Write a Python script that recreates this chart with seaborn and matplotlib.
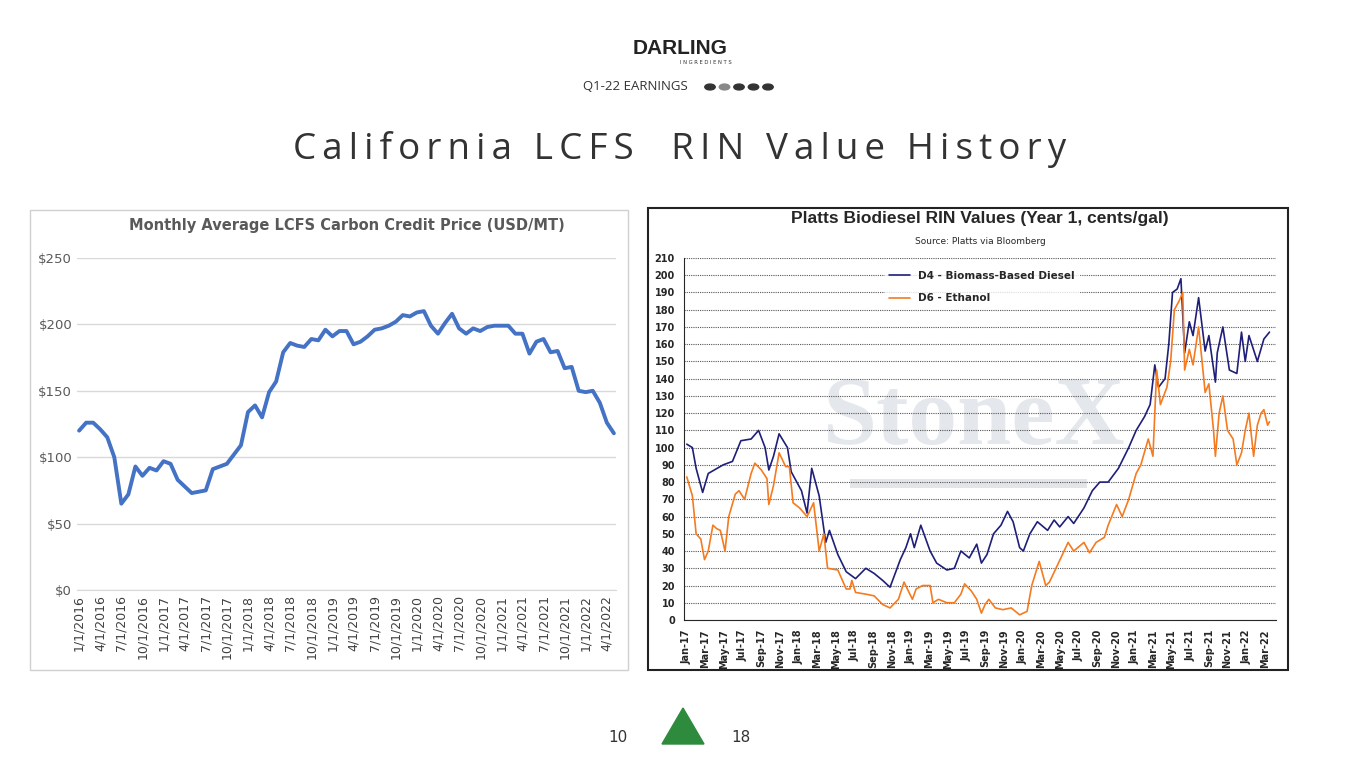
import matplotlib.pyplot as plt
import matplotlib.patches as mpatches
import seaborn as sns
import pandas as pd
import numpy as np

# ---- left chart: monthly LCFS credit price, Jan 2016 onwards ----
lcfs_price = [120, 126, 126, 121, 115, 100, 65, 72, 93, 86, 92, 90,
              97, 95, 83, 78, 73, 74, 75, 91, 93, 95, 102, 109,
              134, 139, 130, 149, 157, 179, 186, 184, 183, 189, 188, 196,
              191, 195, 195, 185, 187, 191, 196, 197, 199, 202, 207, 206,
              209, 210, 199, 193, 201, 208, 197, 193, 197, 195, 198, 199,
              199, 199, 193, 193, 178, 187, 189, 179, 180, 167, 168, 150,
              149, 150, 141, 126, 118]
lcfs_ticks = [f"{m}/1/{y}" for y in range(2016, 2023) for m in (1, 4, 7, 10)][:26]

# ---- right chart: RIN values (months since Jan-17, cents/gal) ----
d4_month = [0, 0.6, 1.0, 1.7, 2.3, 3.9, 4.9, 5.8, 6.9, 7.7, 8.4, 8.8, 9.3, 9.9, 10.8, 11.2,
            12.3, 12.9, 13.4, 14.2, 14.9, 15.3, 16.2, 17.1, 18.1, 19.2, 20.1, 21.0, 21.8, 22.9,
            23.5, 24.0, 24.4, 25.1, 26.1, 26.8, 27.9, 28.7, 29.4, 30.3, 31.1, 31.6, 32.2, 32.9,
            33.7, 34.4, 35.0, 35.7, 36.1, 36.8, 37.6, 38.7, 39.4, 40.0, 40.9, 41.5, 42.6, 43.5,
            44.3, 45.2, 46.3, 47.4, 48.2, 49.1, 49.7, 50.2, 50.6, 51.3, 51.7, 52.1, 52.6, 53.0,
            53.4, 53.9, 54.3, 54.9, 55.6, 56.0, 56.7, 56.9, 57.5, 58.2, 59.0, 59.5, 59.9, 60.3,
            61.2, 61.9, 62.5]
d4_value = [102, 100, 88, 74, 85, 90, 92, 104, 105, 110, 100, 87, 95, 108, 100, 86,
            75, 62, 88, 72, 45, 52, 38, 28, 24, 30, 27, 23, 19, 35,
            42, 50, 42, 55, 40, 33, 29, 30, 40, 36, 44, 33, 38, 50,
            55, 63, 57, 42, 40, 50, 57, 52, 58, 54, 60, 56, 65, 75,
            80, 80, 88, 100, 110, 118, 125, 148, 135, 140, 160, 190, 192, 198,
            155, 173, 165, 187, 156, 165, 138, 155, 170, 145, 143, 167, 150, 165,
            150, 163, 167]
d6_month = [0, 0.6, 1.0, 1.5, 1.9, 2.3, 2.8, 3.2, 3.6, 4.1, 4.5, 5.2, 5.6, 6.2, 6.9, 7.3,
            8.0, 8.6, 8.8, 9.3, 9.9, 10.6, 11.0, 11.4, 12.1, 12.9, 13.6, 14.2, 14.7, 15.1,
            16.2, 17.1, 17.5, 17.7, 18.1, 19.2, 20.1, 21.0, 21.8, 22.7, 23.3, 24.2, 24.6, 25.3,
            26.1, 26.4, 27.0, 27.9, 28.7, 29.4, 29.8, 30.5, 31.1, 31.6, 32.0, 32.4, 33.1, 33.9,
            34.8, 35.7, 36.5, 37.0, 37.8, 38.5, 38.9, 39.6, 40.9, 41.5, 42.6, 43.2, 43.9, 44.8,
            45.2, 46.1, 46.7, 47.4, 48.2, 48.7, 49.5, 50.0, 50.4, 50.8, 51.5, 51.9, 52.3, 52.8,
            53.2, 53.4, 53.9, 54.3, 54.9, 55.6, 56.0, 56.5, 56.7, 57.1, 57.5, 58.0, 58.6, 59.0,
            59.5, 59.9, 60.3, 60.8, 61.2, 61.6, 61.9, 62.3, 62.5]
d6_value = [83, 72, 50, 47, 35, 40, 55, 53, 52, 40, 60, 73, 75, 70, 85, 91,
            87, 82, 67, 78, 97, 89, 89, 68, 65, 60, 68, 40, 50, 30,
            29, 18, 18, 23, 16, 15, 14, 9, 7, 12, 22, 12, 18, 20,
            20, 10, 12, 10, 10, 15, 21, 17, 12, 4, 9, 12, 7, 6,
            7, 3, 5, 20, 34, 20, 22, 30, 45, 40, 45, 39, 45, 48,
            55, 67, 60, 70, 85, 90, 105, 95, 145, 125, 135, 150, 180, 185,
            190, 145, 157, 148, 170, 132, 137, 110, 95, 120, 130, 110, 105, 90,
            97, 110, 120, 95, 113, 120, 122, 113, 115]
mon = ['Jan', 'Mar', 'May', 'Jul', 'Sep', 'Nov']
rin_ticks = [f"{m}-{y}" for y in range(17, 23) for m in mon][:32]
title_text = "California LCFS  RIN Value History"

sns.set_style("white")
plt.rcParams['font.family'] = ['DejaVu Sans']

fig = plt.figure(figsize=(13.65, 7.68), dpi=100)
W, H = 1365, 768
def box(x0, y0, x1, y1):
    return [x0 / W, 1 - y1 / H, (x1 - x0) / W, (y1 - y0) / H]

# ---- header / footer ----
fig.text(680 / W, 1 - 48 / H, "DARLING", ha='center', va='center', fontsize=15,
         fontweight='bold', color='#222222', family='Liberation Sans')
fig.text(732 / W, 1 - 62 / H, "I N G R E D I E N T S", ha='right', va='center', fontsize=3.8, color='#333333')
fig.text(688 / W, 1 - 87 / H, "Q1-22 EARNINGS", ha='right', va='center', fontsize=9.5, color='#333333',
         family='Open Sans')
for i, c in enumerate(['#333333', '#888888', '#333333', '#333333', '#333333']):
    fig.patches.append(mpatches.Circle(((710 + i * 14.5) / W, 1 - 87 / H), 5.2 / W, color=c,
                                       transform=fig.transFigure))
# letter-spaced title
spaced = "\u2009".join(title_text)
fig.text(680 / W, 1 - 150 / H, spaced, ha='center', va='center',
         fontsize=26.5, color='#333333', family=['Open Sans', 'DejaVu Sans'])
fig.text(618 / W, 1 - 738 / H, "10", ha='center', va='center', fontsize=11, color='#333333')
fig.text(741 / W, 1 - 738 / H, "18", ha='center', va='center', fontsize=11, color='#333333')
fig.patches.append(mpatches.Polygon([(662 / W, 1 - 744 / H), (704 / W, 1 - 744 / H), (683 / W, 1 - 708 / H)],
                                    closed=True, color='#2e8b3e', transform=fig.transFigure))

# ---- left panel ----
fig.patches.append(mpatches.Rectangle((30 / W, 1 - 670 / H), 598 / W, 460 / H, fill=False,
                                      edgecolor='#d0d0d0', lw=1, transform=fig.transFigure))
ax1 = fig.add_axes(box(77, 258, 616, 590))
left_df = pd.DataFrame({'month': np.arange(len(lcfs_price)), 'price': lcfs_price})
sns.lineplot(data=left_df, x='month', y='price', ax=ax1, color='#4472c4', lw=2.8)
ax1.set_ylim(0, 250)
ax1.set_xlim(-0.3, len(lcfs_price) - 0.7)
ax1.set_yticks(range(0, 251, 50))
ax1.set_yticklabels([f"${v}" for v in range(0, 251, 50)], fontsize=9.5, color='#595959')
ax1.set_xticks(np.arange(0, len(lcfs_ticks) * 3, 3))
ax1.set_xticklabels(lcfs_ticks, rotation=90, fontsize=9, color='#404040')
ax1.grid(axis='y', color='#d9d9d9', lw=1)
for s in ['top', 'right', 'left']:
    ax1.spines[s].set_visible(False)
ax1.spines['bottom'].set_color('#d9d9d9')
ax1.tick_params(axis='both', length=0)
ax1.set_xlabel('')
ax1.set_ylabel('')
ax1.set_title("Monthly Average LCFS Carbon Credit Price (USD/MT)", fontsize=10.5,
              color='#595959', fontweight='bold', pad=20)

# ---- right panel ----
fig.patches.append(mpatches.Rectangle((648 / W, 1 - 670 / H), 640 / W, 462 / H, fill=False,
                                      edgecolor='#222222', lw=1.5, transform=fig.transFigure))
ax2 = fig.add_axes(box(684, 258, 1276, 620))
d4_df = pd.DataFrame({'month': d4_month, 'value': d4_value})
d6_df = pd.DataFrame({'month': d6_month, 'value': d6_value})
sns.lineplot(data=d4_df, x='month', y='value', ax=ax2, color='#1f1f7a', lw=1.2,
             label='D4 - Biomass-Based Diesel')
sns.lineplot(data=d6_df, x='month', y='value', ax=ax2, color='#f47b20', lw=1.2,
             label='D6 - Ethanol')
ax2.set_ylim(0, 210)
ax2.set_xlim(-0.3, 63.2)
ax2.set_yticks(range(0, 211, 10))
ax2.set_yticklabels(range(0, 211, 10), fontsize=7, fontweight='bold')
ax2.set_xticks(np.arange(0, len(rin_ticks) * 2, 2))
ax2.set_xticklabels(rin_ticks, rotation=90, fontsize=7, fontweight='bold')
ax2.grid(axis='y', color='#555555', lw=0.8, ls=(0, (1, 1)))
ax2.tick_params(axis='both', length=3, direction='out', width=0.8)
for s in ['top', 'right']:
    ax2.spines[s].set_visible(False)
ax2.set_xlabel('')
ax2.set_ylabel('')
leg = ax2.legend(loc='upper left', bbox_to_anchor=(0.33, 0.99), frameon=True, fontsize=7.5,
                 handlelength=2, labelspacing=1.2)
leg.get_frame().set_edgecolor('white')
for t in leg.get_texts():
    t.set_fontweight('bold')
ax2.text(0.5, 1.11, "Platts Biodiesel RIN Values (Year 1, cents/gal)", transform=ax2.transAxes,
         ha='center', va='center', fontsize=12.5, fontweight='bold', family='Liberation Sans')
ax2.text(0.5, 1.045, "Source: Platts via Bloomberg", transform=ax2.transAxes,
         ha='center', va='center', fontsize=6.5)
ax2.text(0.49, 0.55, "StoneX", transform=ax2.transAxes, ha='center', va='center',
         fontsize=70, fontweight='bold', family='Liberation Serif', color='#c4cad4', alpha=0.45, zorder=0)
ax2.add_patch(mpatches.Rectangle((0.28, 0.365), 0.4, 0.025, transform=ax2.transAxes,
                                 color='#c8ccd4', alpha=0.5, zorder=0, lw=0))

fig.savefig('out.png', dpi=100)
